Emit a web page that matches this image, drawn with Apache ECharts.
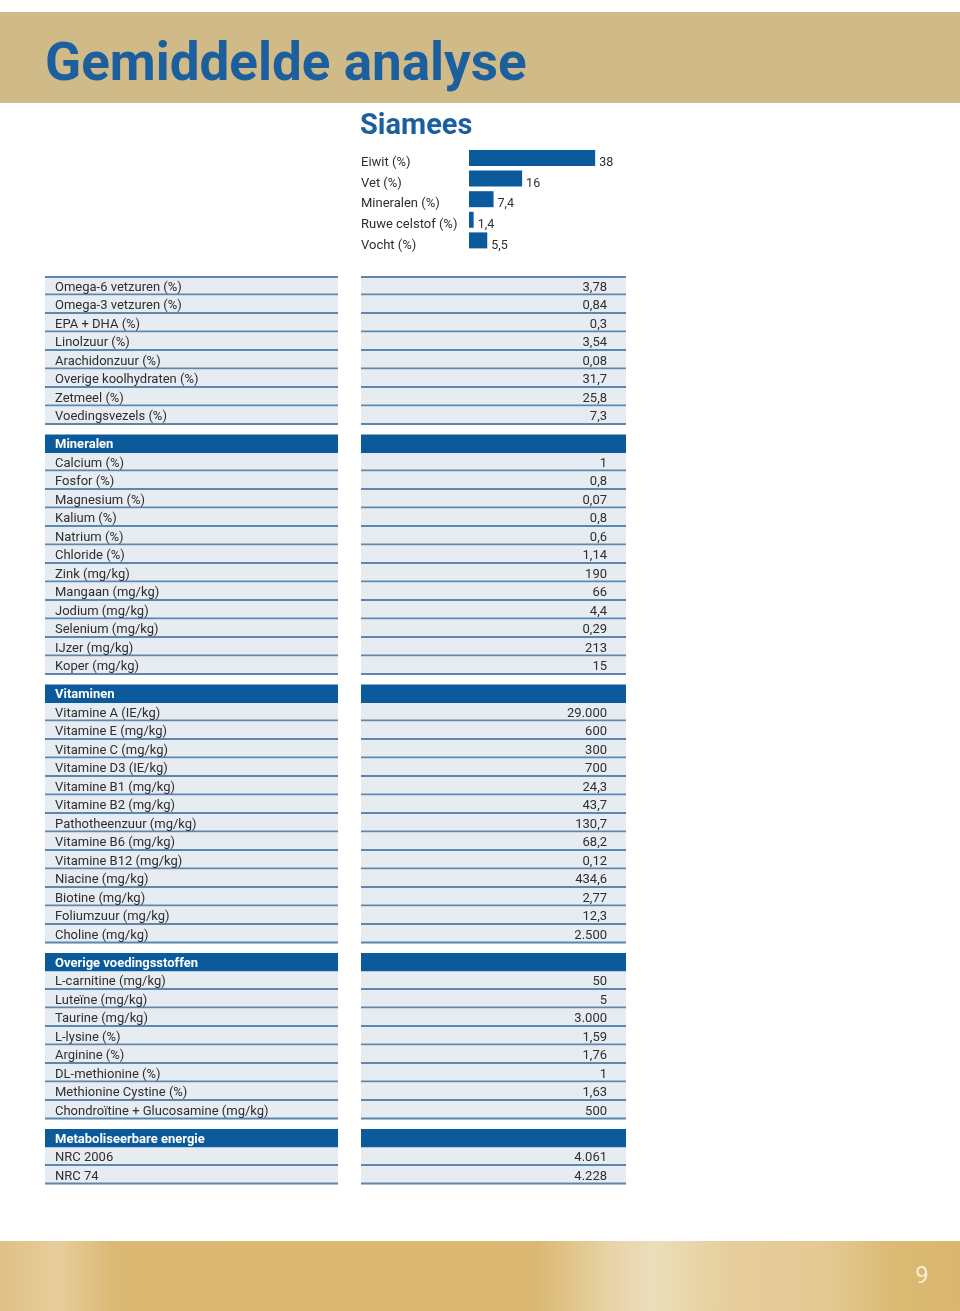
<!DOCTYPE html>
<html>
<head>
<meta charset="utf-8">
<script src="https://cdn.jsdelivr.net/npm/echarts@6/dist/echarts.min.js"></script>
<style>
html,body{margin:0;padding:0;background:#fff;}
#chart{width:960px;height:1311px;}
</style>
</head>
<body>
<div id="chart"></div>
<script>
// ---------- DATA ----------
const pageTitle = 'Gemiddelde analyse';
const productName = 'Siamees';
const pageNumber = '9';

const barCategories = ['Eiwit (%)', 'Vet (%)', 'Mineralen (%)', 'Ruwe celstof (%)', 'Vocht (%)'];
const barValues = [38, 16, 7.4, 1.4, 5.5];

const fatNames = ['Omega-6 vetzuren (%)', 'Omega-3 vetzuren (%)', 'EPA + DHA (%)', 'Linolzuur (%)',
  'Arachidonzuur (%)', 'Overige koolhydraten (%)', 'Zetmeel (%)', 'Voedingsvezels (%)'];
const fatValues = [3.78, 0.84, 0.3, 3.54, 0.08, 31.7, 25.8, 7.3];

const mineralNames = ['Calcium (%)', 'Fosfor (%)', 'Magnesium (%)', 'Kalium (%)', 'Natrium (%)',
  'Chloride (%)', 'Zink (mg/kg)', 'Mangaan (mg/kg)', 'Jodium (mg/kg)', 'Selenium (mg/kg)',
  'IJzer (mg/kg)', 'Koper (mg/kg)'];
const mineralValues = [1, 0.8, 0.07, 0.8, 0.6, 1.14, 190, 66, 4.4, 0.29, 213, 15];

const vitaminNames = ['Vitamine A (IE/kg)', 'Vitamine E (mg/kg)', 'Vitamine C (mg/kg)', 'Vitamine D3 (IE/kg)',
  'Vitamine B1 (mg/kg)', 'Vitamine B2 (mg/kg)', 'Pathotheenzuur (mg/kg)', 'Vitamine B6 (mg/kg)',
  'Vitamine B12 (mg/kg)', 'Niacine (mg/kg)', 'Biotine (mg/kg)', 'Foliumzuur (mg/kg)', 'Choline (mg/kg)'];
const vitaminValues = [29000, 600, 300, 700, 24.3, 43.7, 130.7, 68.2, 0.12, 434.6, 2.77, 12.3, 2500];

const otherNames = ['L-carnitine (mg/kg)', 'Luteïne (mg/kg)', 'Taurine (mg/kg)', 'L-lysine (%)',
  'Arginine (%)', 'DL-methionine (%)', 'Methionine Cystine (%)', 'Chondroïtine + Glucosamine (mg/kg)'];
const otherValues = [50, 5, 3000, 1.59, 1.76, 1, 1.63, 500];

const energyNames = ['NRC 2006', 'NRC 74'];
const energyValues = [4061, 4228];

const sectionTitles = ['', 'Mineralen', 'Vitaminen', 'Overige voedingsstoffen', 'Metaboliseerbare energie'];
const sectionNames = [fatNames, mineralNames, vitaminNames, otherNames, energyNames];
const sectionValues = [fatValues, mineralValues, vitaminValues, otherValues, energyValues];

// ---------- helpers ----------
function nl(v) {
  const p = String(v).split('.');
  p[0] = p[0].replace(/\B(?=(\d{3})+(?!\d))/g, '.');
  return p.join(',');
}
const FONT = 'Roboto';
const BLUE = '#0b5a9b';
const TXT = '#2e2e2e';
const CELL = '#e7ecf3';
const LINE = '#5f87ad';
const GAP = 9.5 / 18.5; // section spacing in row units

// Build table rows: [position, kind, label, value, isFirst]
const tableRows = [];
let idx = 0;
sectionTitles.forEach((t, s) => {
  if (t) { tableRows.push([idx + s * GAP, 1, t, '', 0]); idx++; }
  sectionNames[s].forEach((n, i) => {
    tableRows.push([idx + s * GAP, 0, n, nl(sectionValues[s][i]), (s === 0 && i === 0) ? 1 : 0]);
    idx++;
  });
});
const tableMax = tableRows[tableRows.length - 1][0] + 0.5;

const LEFT_END = 293 / 581, RIGHT_START = 316 / 581;

function renderRow(params, api) {
  const pos = api.value(0), kind = api.value(1);
  const label = api.value(2), val = api.value(3), first = api.value(4);
  const p0 = api.coord([0, pos]), p1 = api.coord([1, pos]);
  const h = api.size([0, 1])[1];
  const x0 = p0[0], x1 = p1[0], W = x1 - x0, yc = p0[1];
  const lx1 = x0 + W * LEFT_END, rx0 = x0 + W * RIGHT_START;
  const top = yc - h / 2, bot = yc + h / 2;
  const children = [];
  if (kind === 1) {
    children.push({ type: 'rect', shape: { x: x0, y: top, width: lx1 - x0, height: h }, style: { fill: BLUE } });
    children.push({ type: 'rect', shape: { x: rx0, y: top, width: x1 - rx0, height: h }, style: { fill: BLUE } });
    children.push({ type: 'text', style: { x: x0 + 10, y: yc + 1, text: label, fill: '#fff', font: 'bold 13px ' + FONT, verticalAlign: 'middle', align: 'left' } });
  } else {
    children.push({ type: 'rect', shape: { x: x0, y: top, width: lx1 - x0, height: h }, style: { fill: CELL } });
    children.push({ type: 'rect', shape: { x: rx0, y: top, width: x1 - rx0, height: h }, style: { fill: CELL } });
    children.push({ type: 'rect', shape: { x: x0, y: bot - 2, width: lx1 - x0, height: 2 }, style: { fill: LINE } });
    children.push({ type: 'rect', shape: { x: rx0, y: bot - 2, width: x1 - rx0, height: 2 }, style: { fill: LINE } });
    if (first) {
      children.push({ type: 'rect', shape: { x: x0, y: top - 1, width: lx1 - x0, height: 2 }, style: { fill: LINE } });
      children.push({ type: 'rect', shape: { x: rx0, y: top - 1, width: x1 - rx0, height: 2 }, style: { fill: LINE } });
    }
    children.push({ type: 'text', style: { x: x0 + 10, y: yc + 1, text: label, fill: TXT, font: '13px ' + FONT, verticalAlign: 'middle', align: 'left' } });
    children.push({ type: 'text', style: { x: x1 - 19, y: yc + 1, text: val, fill: TXT, font: '13px ' + FONT, verticalAlign: 'middle', align: 'right' } });
  }
  return { type: 'group', children };
}

const chart = echarts.init(document.getElementById('chart'), null, { renderer: 'canvas' });
chart.setOption({
  backgroundColor: '#fff',
  animation: false,
  title: [
    { text: pageTitle, left: 40, top: 35, textStyle: { fontFamily: FONT, fontWeight: 'bold', fontSize: 53, color: '#1b5f9f' } },
    { text: productName, left: 355, top: 107, textStyle: { fontFamily: FONT, fontWeight: 'bold', fontSize: 29, color: '#1b5f9f' } }
  ],
  graphic: [
    { type: 'rect', z: -10, shape: { x: 0, y: 12, width: 960, height: 91 }, style: { fill: '#cfba88' } },
    { type: 'rect', z: -10, shape: { x: 0, y: 1241, width: 960, height: 70 },
      style: { fill: new echarts.graphic.LinearGradient(0, 0, 1, 0, [
        { offset: 0, color: '#dfc185' }, { offset: 0.06, color: '#e6cd9b' }, { offset: 0.12, color: '#dbb973' },
        { offset: 0.35, color: '#dbb970' }, { offset: 0.56, color: '#dbb972' }, { offset: 0.63, color: '#e6d1a3' },
        { offset: 0.68, color: '#ecdebb' }, { offset: 0.76, color: '#e6cd9b' }, { offset: 0.86, color: '#e4c994' },
        { offset: 0.93, color: '#dbba73' }, { offset: 1, color: '#dab76e' }]) } },
    { type: 'text', z: 10, style: { x: 922, y: 1277, text: pageNumber, fill: '#f6eed6', font: '24px ' + FONT, align: 'center', verticalAlign: 'middle' } }
  ],
  grid: [
    { left: 469, top: 147.7, width: 166, height: 103 },
    { left: 45, top: 277, width: 581, height: (tableMax + 0.5) * 18.5 }
  ],
  xAxis: [
    { gridIndex: 0, type: 'value', min: 0, max: 50, show: false },
    { gridIndex: 1, type: 'value', min: 0, max: 1, show: false }
  ],
  yAxis: [
    { gridIndex: 0, type: 'category', data: barCategories, inverse: true,
      axisLine: { show: false }, axisTick: { show: false }, splitLine: { show: false },
      axisLabel: { margin: 108, align: 'left', verticalAlign: 'top', lineHeight: 10, fontFamily: FONT, fontSize: 13, color: TXT } },
    { gridIndex: 1, type: 'value', inverse: true, min: -0.5, max: tableMax, show: false }
  ],
  series: [
    { type: 'bar', xAxisIndex: 0, yAxisIndex: 0, data: barValues, barWidth: 16,
      itemStyle: { color: BLUE },
      label: { show: true, position: 'right', distance: 4, offset: [0, 5], fontFamily: FONT, fontSize: 12.5, color: TXT,
        formatter: p => nl(p.value) } },
    { type: 'custom', xAxisIndex: 1, yAxisIndex: 1, data: tableRows, renderItem: renderRow,
      encode: { x: -1, y: 0 }, clip: false }
  ]
});
</script>
</body>
</html>
